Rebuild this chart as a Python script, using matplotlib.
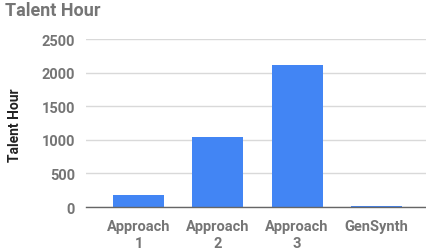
import matplotlib
matplotlib.use("Agg")
import matplotlib.pyplot as plt

categories = ["Approach\n1", "Approach\n2", "Approach\n3", "GenSynth"]
values = [180, 1040, 2110, 12]
yticks = [0, 500, 1000, 1500, 2000, 2500]

plt.rcParams['font.family'] = ['Roboto', 'DejaVu Sans']
grey = "#757575"

fig = plt.figure(figsize=(4.26, 2.51), dpi=100)
W, H = 426, 251
ax = fig.add_axes([86 / W, 1 - 208 / H, (426 - 86) / W, 168 / H])

x = list(range(len(categories)))
ax.bar(x, values, width=0.643, color="#4285F4", zorder=3)
ax.set_xlim(-0.662, 3.624)
ax.set_ylim(0, 2500)
ax.set_yticks(yticks)
ax.set_yticklabels([str(v) for v in yticks], fontsize=10.5, fontweight="bold", color=grey)
ax.set_xticks(x)
ax.set_xticklabels(categories, fontsize=10.5, fontweight="bold", color=grey, linespacing=1.25)
ax.tick_params(length=0, pad=8)
ax.tick_params(axis='x', pad=9)
ax.grid(axis='y', color="#d9d9d9", linewidth=1, zorder=0)
for s in ["top", "right", "left"]:
    ax.spines[s].set_visible(False)
ax.spines["bottom"].set_color("#666666")
ax.spines["bottom"].set_linewidth(1)
ax.spines["bottom"].set_zorder(4)

fig.text(15 / W, 1 - 125 / H, "Talent Hour", rotation=90, fontsize=10, fontweight="bold",
         color="#222222", ha="center", va="center")
fig.text(5 / W, 1 - 11 / H, "Talent Hour", fontsize=13, fontweight="bold", color=grey,
         ha="left", va="center")

fig.savefig("out.png", dpi=100)
